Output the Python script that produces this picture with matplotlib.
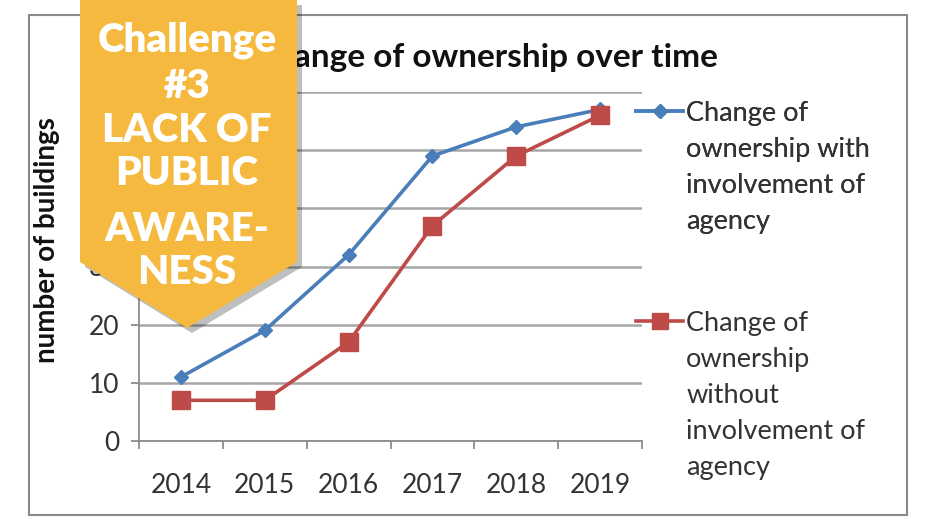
import matplotlib
matplotlib.use("Agg")
import matplotlib.pyplot as plt
from matplotlib.patches import Polygon, Rectangle
import numpy as np

years = ["2014", "2015", "2016", "2017", "2018", "2019"]
with_agency = [11, 19, 32, 49, 54, 57]
without_agency = [7, 7, 17, 37, 49, 56]
label_with = "Change of\nownership with\ninvolvement of\nagency"
label_without = "Change of\nownership\nwithout\ninvolvement of\nagency"
title = "Change of ownership over time"
ylabel = "number of buildings"
badge_lines = ["Challenge", "#3", "LACK OF", "PUBLIC", "AWARE-", "NESS"]

plt.rcParams['font.family'] = ['Lato', 'DejaVu Sans']

W, H = 927, 522
fig = plt.figure(figsize=(W / 100, H / 100), dpi=100)
fig.patch.set_facecolor("white")

def fx(px):
    return px / W

def fy(py):
    return 1 - py / H

# outer frame
fig.patches.append(Rectangle((fx(29), fy(515)), fx(907) - fx(29), fy(15) - fy(515),
                             transform=fig.transFigure, fill=False, edgecolor="#8a8a8a",
                             linewidth=1.5, zorder=0))

ax = fig.add_axes([fx(139), fy(441), fx(642) - fx(139), fy(92) - fy(441)])
x = np.arange(len(years))
grid_c = "#a6a6a6"
ax.set_xlim(-0.5, len(years) - 0.5)
ax.set_ylim(0, 60)
ax.set_yticks(np.arange(0, 61, 10))
ax.set_yticklabels(["0", "10", "20", "30", "40", "50", "60"])
ax.grid(axis="y", color=grid_c, linewidth=1.8)
ax.set_axisbelow(True)
for s in ["top", "right"]:
    ax.spines[s].set_visible(False)
for s in ["left", "bottom"]:
    ax.spines[s].set_color("#8c8c8c")
    ax.spines[s].set_linewidth(1.3)
ax.set_xticks(x)
ax.set_xticklabels(years)
ax.set_xticks(np.arange(-0.5, len(years), 1), minor=True)
ax.tick_params(axis="x", which="major", length=0, pad=23, labelsize=19, labelcolor="#333333")
ax.tick_params(axis="x", which="minor", length=6, color="#8c8c8c", width=1.3)
ax.tick_params(axis="y", length=6, color="#8c8c8c", width=1.3, labelsize=19,
               labelcolor="#333333", pad=8)

l1, = ax.plot(x, with_agency, color="#4a7ebb", linewidth=2.6, marker="D",
              markersize=7, markerfacecolor="#4a7ebb", markeredgecolor="#4a7ebb",
              label=label_with, zorder=3)
l2, = ax.plot(x, without_agency, color="#be4b48", linewidth=2.6, marker="s",
              markersize=13, markerfacecolor="#be4b48", markeredgecolor="#be4b48",
              label=label_without, zorder=3)

fig.text(fx(47), fy(240), ylabel, rotation=90, ha="center", va="center",
         fontsize=20, fontweight="bold", color="#111111")

fig.text(fx(485), fy(58), title, ha="center", va="center", fontsize=24,
         fontweight="bold", color="#111111")

leg_kw = dict(loc="upper left", frameon=False, fontsize=19.5, handlelength=1.75,
              handletextpad=0.1, borderaxespad=0, borderpad=0, handleheight=0.9)
leg1 = fig.legend(handles=[l1], labels=[label_with],
                  bbox_to_anchor=(fx(636), fy(101)), **leg_kw)
leg2 = fig.legend(handles=[l2], labels=[label_without],
                  bbox_to_anchor=(fx(636), fy(311)), **leg_kw)
for lg in (leg1, leg2):
    for t in lg.get_texts():
        t.set_color("#333333")
        t.set_linespacing(1.55)
    for col in lg._legend_handle_box.get_children():
        for item in col.get_children():
            item.align = "top"
for lh in leg2.legend_handles:
    lh.set_markersize(11)
fig.add_artist(leg1)

# badge
pts = [(80, 0), (297, 0), (297, 262), (187, 328), (80, 262)]
shadow = Polygon([(fx(px + 5), fy(py + 5)) for px, py in pts], closed=True,
                 transform=fig.transFigure, facecolor="#000000", alpha=0.25,
                 edgecolor="none", zorder=5)
badge = Polygon([(fx(px), fy(py)) for px, py in pts], closed=True,
                transform=fig.transFigure, facecolor="#f6b93f", edgecolor="none", zorder=6)
fig.patches.extend([shadow, badge])
ys = [40, 86, 131, 174, 230, 273]
for txt, yy in zip(badge_lines, ys):
    fig.text(fx(187), fy(yy), txt, ha="center", va="center", fontsize=29,
             fontweight="heavy", color="white", zorder=7)

fig.savefig("out.png", dpi=100, facecolor="white")
